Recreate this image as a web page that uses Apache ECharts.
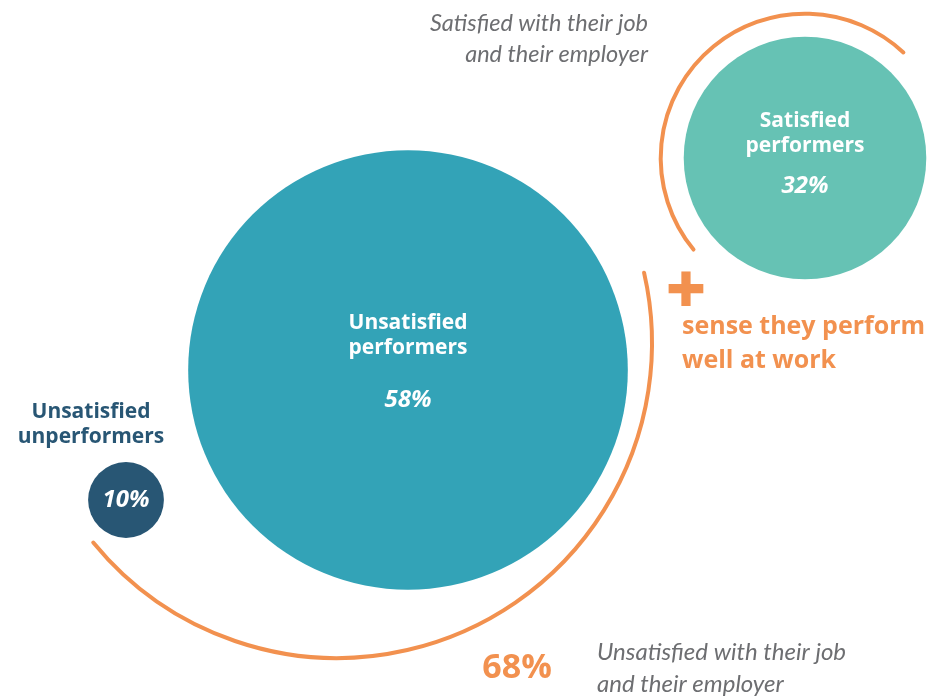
<!DOCTYPE html>
<html>
<head>
<meta charset="utf-8">
<script src="https://cdn.jsdelivr.net/npm/echarts@6/dist/echarts.min.js"></script>
<style>
  html, body { margin: 0; padding: 0; background: #ffffff; }
  #chart { width: 931px; height: 698px; }
</style>
</head>
<body>
<div id="chart"></div>
<script>
// Employee groups and their share of the workforce (%)
const categories = ['Unsatisfied performers', 'Satisfied performers', 'Unsatisfied unperformers'];
const shares = [58, 32, 10];
const nameLines = [['Unsatisfied', 'performers'], ['Satisfied', 'performers'], ['Unsatisfied', 'unperformers']];

// Layout: bubble centres in page pixels, colours, radius per percentage point
const centres = [[408, 370], [805, 158], [126, 500]];
const colours = ['#33A3B7', '#66C2B4', '#285674'];
const RADIUS_PER_POINT = 3.79;
const ORANGE = '#F2914F';
const GREY = '#6D6E71';
const BOLD_FONT = '"Open Sans", Lato, sans-serif';
const ITALIC_FONT = 'Lato, "Open Sans", sans-serif';

// Groupings shown by the orange brackets
const unsatisfiedTotal = shares[0] + shares[2];

// Bracket arcs: [cx, cy, r, startDeg, endDeg] (screen angles, drawn clockwise)
const arcs = [
  [centres[1][0], centres[1][1], shares[1] * RADIUS_PER_POINT + 23, -219.4, -47],
  [337, 343, 315, -12.9, 140.7]
];

const bubbleData = categories.map((name, i) => ({
  name,
  value: [centres[i][0], centres[i][1], shares[i]],
  itemStyle: { color: colours[i], opacity: 1 }
}));

const chart = echarts.init(document.getElementById('chart'), null, { renderer: 'canvas' });

const labelOffsets = [[0, -7], [0, -3], [0, 0]];
const spacerHeights = [25, 12, 0];

chart.setOption({
  animation: false,
  backgroundColor: '#ffffff',
  grid: { left: 0, right: 0, top: 0, bottom: 0 },
  xAxis: { type: 'value', min: 0, max: 931, show: false },
  yAxis: { type: 'value', min: 0, max: 698, inverse: true, show: false },
  series: [
    {
      type: 'custom',
      silent: true,
      data: arcs,
      renderItem(params, api) {
        const c = api.coord([api.value(0), api.value(1)]);
        const r = api.size([api.value(2), 0])[0];
        return {
          type: 'arc',
          shape: {
            cx: c[0], cy: c[1], r,
            startAngle: api.value(3) * Math.PI / 180,
            endAngle: api.value(4) * Math.PI / 180,
            clockwise: true
          },
          style: { fill: null, stroke: ORANGE, lineWidth: 4, lineCap: 'round' }
        };
      }
    },
    {
      type: 'scatter',
      silent: true,
      data: bubbleData,
      symbol: 'circle',
      symbolSize: (val) => val[2] * RADIUS_PER_POINT * 2,
      itemStyle: { opacity: 1 },
      label: {
        show: true,
        position: 'inside',
        formatter: (p) => {
          const i = p.dataIndex;
          const pct = '{p|' + shares[i] + '%}';
          if (i === 2) return pct;
          return '{n|' + nameLines[i][0] + '}\n{n|' + nameLines[i][1] + '}\n{s' + i + '| }\n' + pct;
        },
        rich: {
          n: { fontFamily: BOLD_FONT, fontWeight: 'bold', fontSize: 21, color: '#ffffff', lineHeight: 25 },
          s0: { fontSize: 2, lineHeight: spacerHeights[0] },
          s1: { fontSize: 2, lineHeight: spacerHeights[1] },
          p: { fontFamily: BOLD_FONT, fontWeight: 'bold', fontStyle: 'italic', fontSize: 24, color: '#ffffff', lineHeight: 30 }
        }
      },
      labelLayout: (params) => ({
        dx: labelOffsets[params.dataIndex][0],
        dy: labelOffsets[params.dataIndex][1]
      })
    }
  ],
  graphic: [
    {
      type: 'text', style: {
        x: 91, y: 425, text: nameLines[2].join('\n'), align: 'center', verticalAlign: 'middle',
        font: 'bold 21px ' + BOLD_FONT, fill: colours[2], lineHeight: 25
      }
    },
    {
      type: 'text', style: {
        x: 686, y: 294, text: '+', align: 'center', verticalAlign: 'middle',
        font: '800 70px ' + BOLD_FONT, fill: ORANGE
      }
    },
    {
      type: 'text', style: {
        x: 682, y: 344, text: 'sense they perform\nwell at work', align: 'left', verticalAlign: 'middle',
        font: 'bold 25px ' + BOLD_FONT, fill: ORANGE, lineHeight: 34
      }
    },
    {
      type: 'text', style: {
        x: 517, y: 668, text: unsatisfiedTotal + '%', align: 'center', verticalAlign: 'middle',
        font: 'bold 34px ' + BOLD_FONT, fill: ORANGE
      }
    },
    {
      type: 'text', style: {
        x: 597, y: 668, text: 'Unsatisfied with their job\nand their employer', align: 'left', verticalAlign: 'middle',
        font: 'italic 24px ' + ITALIC_FONT, fill: GREY, lineHeight: 32
      }
    },
    {
      type: 'text', style: {
        x: 648, y: 39, text: 'Satisfied with their job\nand their employer', align: 'right', verticalAlign: 'middle',
        font: 'italic 23.5px ' + ITALIC_FONT, fill: GREY, lineHeight: 31
      }
    }
  ]
});
</script>
</body>
</html>
